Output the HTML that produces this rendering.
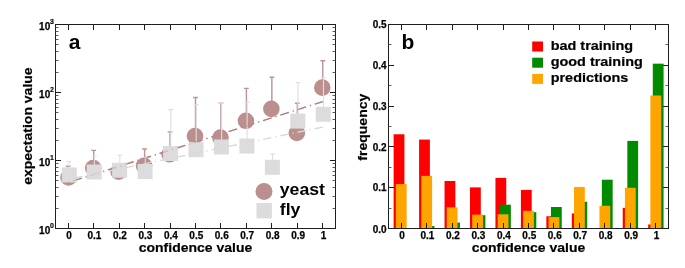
<!DOCTYPE html>
<html><head><meta charset="utf-8"><style>
html,body{margin:0;padding:0;background:#fff;}
body{width:685px;height:268px;overflow:hidden;}
svg{display:block;filter:blur(0.35px);}
text{font-family:"Liberation Sans", sans-serif;font-weight:bold;fill:#000;}
</style></head><body>
<svg width="685" height="268" viewBox="0 0 685 268">
<path d="M68.23 177.40V166.30M65.83 166.30H70.63" stroke="#b99595" stroke-width="1.4" fill="none"/>
<path d="M93.68 168.00V150.40M91.28 150.40H96.08" stroke="#b99595" stroke-width="1.4" fill="none"/>
<path d="M144.59 165.90V149.00M142.19 149.00H146.99" stroke="#b99595" stroke-width="1.4" fill="none"/>
<path d="M170.05 154.30V131.90M167.65 131.90H172.45" stroke="#b99595" stroke-width="1.4" fill="none"/>
<path d="M195.50 136.00V97.50M193.10 97.50H197.90" stroke="#b99595" stroke-width="1.4" fill="none"/>
<path d="M220.95 137.50V103.10M218.55 103.10H223.35" stroke="#b99595" stroke-width="1.4" fill="none"/>
<path d="M246.41 120.80V88.40M244.01 88.40H248.81" stroke="#b99595" stroke-width="1.4" fill="none"/>
<path d="M271.86 108.90V77.30M269.46 77.30H274.26" stroke="#b99595" stroke-width="1.4" fill="none"/>
<path d="M297.32 133.00V103.20M294.92 103.20H299.72" stroke="#b99595" stroke-width="1.4" fill="none"/>
<path d="M322.77 87.60V60.70M320.37 60.70H325.17" stroke="#b99595" stroke-width="1.4" fill="none"/>
<path d="M68.23 182.52L322.77 101.63" stroke="#b07f7f" stroke-width="1.4" stroke-dasharray="8.9 4.1 1.2 3.9" stroke-dashoffset="12.75" fill="none"/>
<circle cx="68.53" cy="177.40" r="8.3" fill="#bc8f8f"/>
<circle cx="93.18" cy="168.00" r="8.3" fill="#bc8f8f"/>
<circle cx="118.64" cy="171.60" r="8.3" fill="#bc8f8f"/>
<circle cx="144.09" cy="165.90" r="8.3" fill="#bc8f8f"/>
<circle cx="169.55" cy="154.30" r="8.3" fill="#bc8f8f"/>
<circle cx="195.00" cy="136.00" r="8.3" fill="#bc8f8f"/>
<circle cx="220.45" cy="137.50" r="8.3" fill="#bc8f8f"/>
<circle cx="245.91" cy="120.80" r="8.3" fill="#bc8f8f"/>
<circle cx="271.36" cy="108.90" r="8.3" fill="#bc8f8f"/>
<circle cx="296.82" cy="133.00" r="8.3" fill="#bc8f8f"/>
<circle cx="322.27" cy="87.60" r="8.3" fill="#bc8f8f"/>
<path d="M68.93 175.00V161.60M66.53 161.60H71.33" stroke="#dedede" stroke-width="1.1" fill="none"/>
<path d="M94.38 172.00V156.20M91.98 156.20H96.78" stroke="#dedede" stroke-width="1.1" fill="none"/>
<path d="M119.84 170.20V155.20M117.44 155.20H122.24" stroke="#dedede" stroke-width="1.1" fill="none"/>
<path d="M145.29 171.50V157.50M142.89 157.50H147.69" stroke="#dedede" stroke-width="1.1" fill="none"/>
<path d="M170.75 153.50V109.60M168.35 109.60H173.15" stroke="#dedede" stroke-width="1.1" fill="none"/>
<path d="M196.20 149.70V104.60M193.80 104.60H198.60" stroke="#dedede" stroke-width="1.1" fill="none"/>
<path d="M221.65 147.00V103.40M219.25 103.40H224.05" stroke="#dedede" stroke-width="1.1" fill="none"/>
<path d="M247.11 146.00V102.40M244.71 102.40H249.51" stroke="#dedede" stroke-width="1.1" fill="none"/>
<path d="M272.56 167.30V154.10M270.16 154.10H274.96" stroke="#dedede" stroke-width="1.1" fill="none"/>
<path d="M298.02 121.10V82.50M295.62 82.50H300.42" stroke="#dedede" stroke-width="1.1" fill="none"/>
<path d="M323.47 114.30V77.60M321.07 77.60H325.87" stroke="#dedede" stroke-width="1.1" fill="none"/>
<rect x="61.83" y="167.50" width="15.0" height="15.0" fill="#dcdcdc"/>
<rect x="86.68" y="164.50" width="15.0" height="15.0" fill="#dcdcdc"/>
<rect x="112.14" y="162.70" width="15.0" height="15.0" fill="#dcdcdc"/>
<rect x="137.59" y="164.00" width="15.0" height="15.0" fill="#dcdcdc"/>
<rect x="163.05" y="146.00" width="15.0" height="15.0" fill="#dcdcdc"/>
<rect x="188.50" y="142.20" width="15.0" height="15.0" fill="#dcdcdc"/>
<rect x="213.95" y="139.50" width="15.0" height="15.0" fill="#dcdcdc"/>
<rect x="239.41" y="138.50" width="15.0" height="15.0" fill="#dcdcdc"/>
<rect x="264.86" y="159.80" width="15.0" height="15.0" fill="#dcdcdc"/>
<rect x="290.32" y="113.60" width="15.0" height="15.0" fill="#dcdcdc"/>
<rect x="315.77" y="106.80" width="15.0" height="15.0" fill="#dcdcdc"/>
<path d="M68.23 182.52L322.77 101.63" stroke="#b07f7f" stroke-width="1.4" stroke-dasharray="8.9 4.1 1.2 3.9" stroke-dashoffset="12.75" fill="none" opacity="0.35"/>
<path d="M68.23 179.48L322.77 127.07" stroke="#d8d8d8" stroke-width="1.4" stroke-dasharray="8.3 3.8 1.2 4.23" stroke-dashoffset="11.27" fill="none"/>
<circle cx="264" cy="191.4" r="8.5" fill="#bc8f8f"/>
<rect x="256.5" y="203" width="15.4" height="15.4" fill="#dcdcdc"/>
<text transform="translate(279.80 195.20) scale(1.04 1)" font-size="17">yeast</text>
<text transform="translate(279.80 215.00) scale(1.04 1)" font-size="17">fly</text>
<rect x="55.5" y="24.5" width="280.0" height="204.0" fill="none" stroke="#1e1e1e" stroke-width="1"/>
<path d="M68.50 228.5v-5.5M68.50 24.5v5.5M93.50 228.5v-5.5M93.50 24.5v5.5M119.50 228.5v-5.5M119.50 24.5v5.5M144.50 228.5v-5.5M144.50 24.5v5.5M170.50 228.5v-5.5M170.50 24.5v5.5M195.50 228.5v-5.5M195.50 24.5v5.5M220.50 228.5v-5.5M220.50 24.5v5.5M246.50 228.5v-5.5M246.50 24.5v5.5M271.50 228.5v-5.5M271.50 24.5v5.5M297.50 228.5v-5.5M297.50 24.5v5.5M322.50 228.5v-5.5M322.50 24.5v5.5M55.5 160.50h5.5M335.5 160.50h-5.5M55.5 92.50h5.5M335.5 92.50h-5.5" stroke="#1e1e1e" stroke-width="1" fill="none"/>
<path d="M55.5 208.50h3.0M335.5 208.50h-3.0M55.5 196.50h3.0M335.5 196.50h-3.0M55.5 187.50h3.0M335.5 187.50h-3.0M55.5 180.50h3.0M335.5 180.50h-3.0M55.5 175.50h3.0M335.5 175.50h-3.0M55.5 171.50h3.0M335.5 171.50h-3.0M55.5 167.50h3.0M335.5 167.50h-3.0M55.5 163.50h3.0M335.5 163.50h-3.0M55.5 140.50h3.0M335.5 140.50h-3.0M55.5 128.50h3.0M335.5 128.50h-3.0M55.5 119.50h3.0M335.5 119.50h-3.0M55.5 112.50h3.0M335.5 112.50h-3.0M55.5 107.50h3.0M335.5 107.50h-3.0M55.5 103.50h3.0M335.5 103.50h-3.0M55.5 99.50h3.0M335.5 99.50h-3.0M55.5 95.50h3.0M335.5 95.50h-3.0M55.5 72.50h3.0M335.5 72.50h-3.0M55.5 60.50h3.0M335.5 60.50h-3.0M55.5 51.50h3.0M335.5 51.50h-3.0M55.5 44.50h3.0M335.5 44.50h-3.0M55.5 39.50h3.0M335.5 39.50h-3.0M55.5 35.50h3.0M335.5 35.50h-3.0M55.5 31.50h3.0M335.5 31.50h-3.0M55.5 27.50h3.0M335.5 27.50h-3.0" stroke="#4a4a4a" stroke-width="0.9" fill="none"/>
<text transform="translate(69.03 239.20)" font-size="10.0" text-anchor="middle" stroke="#000" stroke-width="0.25">0</text>
<text transform="translate(94.48 239.20)" font-size="10.0" text-anchor="middle" stroke="#000" stroke-width="0.25">0.1</text>
<text transform="translate(119.94 239.20)" font-size="10.0" text-anchor="middle" stroke="#000" stroke-width="0.25">0.2</text>
<text transform="translate(145.39 239.20)" font-size="10.0" text-anchor="middle" stroke="#000" stroke-width="0.25">0.3</text>
<text transform="translate(170.85 239.20)" font-size="10.0" text-anchor="middle" stroke="#000" stroke-width="0.25">0.4</text>
<text transform="translate(196.30 239.20)" font-size="10.0" text-anchor="middle" stroke="#000" stroke-width="0.25">0.5</text>
<text transform="translate(221.75 239.20)" font-size="10.0" text-anchor="middle" stroke="#000" stroke-width="0.25">0.6</text>
<text transform="translate(247.21 239.20)" font-size="10.0" text-anchor="middle" stroke="#000" stroke-width="0.25">0.7</text>
<text transform="translate(272.66 239.20)" font-size="10.0" text-anchor="middle" stroke="#000" stroke-width="0.25">0.8</text>
<text transform="translate(298.12 239.20)" font-size="10.0" text-anchor="middle" stroke="#000" stroke-width="0.25">0.9</text>
<text transform="translate(323.57 239.20)" font-size="10.0" text-anchor="middle" stroke="#000" stroke-width="0.25">1</text>
<text transform="translate(50.20 234.10)" font-size="10.0" text-anchor="end" stroke="#000" stroke-width="0.25">10</text>
<text transform="translate(50.00 227.60)" font-size="7.0" stroke="#000" stroke-width="0.15">0</text>
<text transform="translate(50.20 166.10)" font-size="10.0" text-anchor="end" stroke="#000" stroke-width="0.25">10</text>
<text transform="translate(50.00 159.60)" font-size="7.0" stroke="#000" stroke-width="0.15">1</text>
<text transform="translate(50.20 98.10)" font-size="10.0" text-anchor="end" stroke="#000" stroke-width="0.25">10</text>
<text transform="translate(50.00 91.60)" font-size="7.0" stroke="#000" stroke-width="0.15">2</text>
<text transform="translate(50.20 29.50)" font-size="10.0" text-anchor="end" stroke="#000" stroke-width="0.25">10</text>
<text transform="translate(50.00 23.80)" font-size="7.0" stroke="#000" stroke-width="0.15">3</text>
<text transform="translate(195.50 252.10) scale(1.037 1)" font-size="13.5" text-anchor="middle" stroke="#000" stroke-width="0.2">confidence value</text>
<text transform="translate(31.80 126.10) rotate(-90) scale(1.037 1)" font-size="13.5" text-anchor="middle" stroke="#000" stroke-width="0.2">expectation value</text>
<text transform="translate(68.80 49.30)" font-size="21">a</text>
<rect x="393.63" y="134.27" width="10.8" height="94.23" fill="#ff0000"/>
<rect x="395.83" y="184.04" width="10.8" height="44.46" fill="#ffa500"/>
<rect x="419.08" y="139.57" width="10.8" height="88.93" fill="#ff0000"/>
<rect x="423.68" y="226.07" width="10.8" height="2.43" fill="#008b00"/>
<rect x="421.28" y="175.88" width="10.8" height="52.62" fill="#ffa500"/>
<rect x="444.54" y="180.98" width="10.8" height="47.52" fill="#ff0000"/>
<rect x="449.14" y="222.60" width="10.8" height="5.90" fill="#008b00"/>
<rect x="446.74" y="207.30" width="10.8" height="21.20" fill="#ffa500"/>
<rect x="469.99" y="187.39" width="10.8" height="41.11" fill="#ff0000"/>
<rect x="474.59" y="215.22" width="10.8" height="13.28" fill="#008b00"/>
<rect x="472.19" y="214.64" width="10.8" height="13.86" fill="#ffa500"/>
<rect x="495.45" y="177.92" width="10.8" height="50.58" fill="#ff0000"/>
<rect x="500.05" y="204.69" width="10.8" height="23.81" fill="#008b00"/>
<rect x="497.65" y="214.32" width="10.8" height="14.18" fill="#ffa500"/>
<rect x="520.90" y="189.92" width="10.8" height="38.58" fill="#ff0000"/>
<rect x="525.50" y="212.20" width="10.8" height="16.30" fill="#008b00"/>
<rect x="523.10" y="210.81" width="10.8" height="17.69" fill="#ffa500"/>
<rect x="546.35" y="216.28" width="10.8" height="12.22" fill="#ff0000"/>
<rect x="550.95" y="207.01" width="10.8" height="21.49" fill="#008b00"/>
<rect x="548.55" y="217.09" width="10.8" height="11.41" fill="#ffa500"/>
<rect x="571.81" y="213.42" width="10.8" height="15.08" fill="#ff0000"/>
<rect x="576.41" y="201.71" width="10.8" height="26.79" fill="#008b00"/>
<rect x="574.01" y="186.98" width="10.8" height="41.52" fill="#ffa500"/>
<rect x="601.86" y="179.72" width="10.8" height="48.78" fill="#008b00"/>
<rect x="599.46" y="205.79" width="10.8" height="22.71" fill="#ffa500"/>
<rect x="622.72" y="207.87" width="10.8" height="20.63" fill="#ff0000"/>
<rect x="627.32" y="140.92" width="10.8" height="87.58" fill="#008b00"/>
<rect x="624.92" y="187.80" width="10.8" height="40.70" fill="#ffa500"/>
<rect x="648.17" y="224.44" width="10.8" height="4.06" fill="#ff0000"/>
<rect x="652.77" y="63.68" width="10.8" height="164.82" fill="#008b00"/>
<rect x="650.37" y="95.51" width="10.8" height="132.99" fill="#ffa500"/>
<rect x="388.5" y="24.5" width="280.0" height="204.0" fill="none" stroke="#1e1e1e" stroke-width="1"/>
<path d="M401.50 228.5v-5.5M401.50 24.5v5.5M426.50 228.5v-5.5M426.50 24.5v5.5M452.50 228.5v-5.5M452.50 24.5v5.5M477.50 228.5v-5.5M477.50 24.5v5.5M503.50 228.5v-5.5M503.50 24.5v5.5M528.50 228.5v-5.5M528.50 24.5v5.5M553.50 228.5v-5.5M553.50 24.5v5.5M579.50 228.5v-5.5M579.50 24.5v5.5M604.50 228.5v-5.5M604.50 24.5v5.5M630.50 228.5v-5.5M630.50 24.5v5.5M655.50 228.5v-5.5M655.50 24.5v5.5M388.5 187.50h5.5M668.5 187.50h-5.5M388.5 146.50h5.5M668.5 146.50h-5.5M388.5 106.50h5.5M668.5 106.50h-5.5M388.5 65.50h5.5M668.5 65.50h-5.5" stroke="#1e1e1e" stroke-width="1" fill="none"/>
<path d="M388.5 208.50h3.0M668.5 208.50h-3.0M388.5 167.50h3.0M668.5 167.50h-3.0M388.5 126.50h3.0M668.5 126.50h-3.0M388.5 85.50h3.0M668.5 85.50h-3.0M388.5 44.50h3.0M668.5 44.50h-3.0" stroke="#4a4a4a" stroke-width="0.9" fill="none"/>
<text transform="translate(402.03 239.20)" font-size="10.0" text-anchor="middle" stroke="#000" stroke-width="0.25">0</text>
<text transform="translate(427.48 239.20)" font-size="10.0" text-anchor="middle" stroke="#000" stroke-width="0.25">0.1</text>
<text transform="translate(452.94 239.20)" font-size="10.0" text-anchor="middle" stroke="#000" stroke-width="0.25">0.2</text>
<text transform="translate(478.39 239.20)" font-size="10.0" text-anchor="middle" stroke="#000" stroke-width="0.25">0.3</text>
<text transform="translate(503.85 239.20)" font-size="10.0" text-anchor="middle" stroke="#000" stroke-width="0.25">0.4</text>
<text transform="translate(529.30 239.20)" font-size="10.0" text-anchor="middle" stroke="#000" stroke-width="0.25">0.5</text>
<text transform="translate(554.75 239.20)" font-size="10.0" text-anchor="middle" stroke="#000" stroke-width="0.25">0.6</text>
<text transform="translate(580.21 239.20)" font-size="10.0" text-anchor="middle" stroke="#000" stroke-width="0.25">0.7</text>
<text transform="translate(605.66 239.20)" font-size="10.0" text-anchor="middle" stroke="#000" stroke-width="0.25">0.8</text>
<text transform="translate(631.12 239.20)" font-size="10.0" text-anchor="middle" stroke="#000" stroke-width="0.25">0.9</text>
<text transform="translate(656.57 239.20)" font-size="10.0" text-anchor="middle" stroke="#000" stroke-width="0.25">1</text>
<text transform="translate(386.60 233.00)" font-size="10.0" text-anchor="end" stroke="#000" stroke-width="0.25">0.0</text>
<text transform="translate(386.60 191.40)" font-size="10.0" text-anchor="end" stroke="#000" stroke-width="0.25">0.1</text>
<text transform="translate(386.60 150.60)" font-size="10.0" text-anchor="end" stroke="#000" stroke-width="0.25">0.2</text>
<text transform="translate(386.60 109.80)" font-size="10.0" text-anchor="end" stroke="#000" stroke-width="0.25">0.3</text>
<text transform="translate(386.60 69.00)" font-size="10.0" text-anchor="end" stroke="#000" stroke-width="0.25">0.4</text>
<text transform="translate(386.60 28.20)" font-size="10.0" text-anchor="end" stroke="#000" stroke-width="0.25">0.5</text>
<text transform="translate(528.50 252.10) scale(1.037 1)" font-size="13.5" text-anchor="middle" stroke="#000" stroke-width="0.2">confidence value</text>
<text transform="translate(366.70 127.20) rotate(-90) scale(1.037 1)" font-size="13.5" text-anchor="middle" stroke="#000" stroke-width="0.2">frequency</text>
<text transform="translate(401.60 49.30)" font-size="21">b</text>
<rect x="532.2" y="41.50" width="10.8" height="10.0" fill="#ff0000"/>
<text transform="translate(550.70 49.60) scale(1.085 1)" font-size="13.3" stroke="#000" stroke-width="0.2">bad training</text>
<rect x="532.2" y="57.70" width="10.8" height="10.0" fill="#008b00"/>
<text transform="translate(550.70 65.80) scale(1.085 1)" font-size="13.3" stroke="#000" stroke-width="0.2">good training</text>
<rect x="532.2" y="73.90" width="10.8" height="10.0" fill="#ffa500"/>
<text transform="translate(550.70 82.00) scale(1.085 1)" font-size="13.3" stroke="#000" stroke-width="0.2">predictions</text>
</svg>
</body></html>
